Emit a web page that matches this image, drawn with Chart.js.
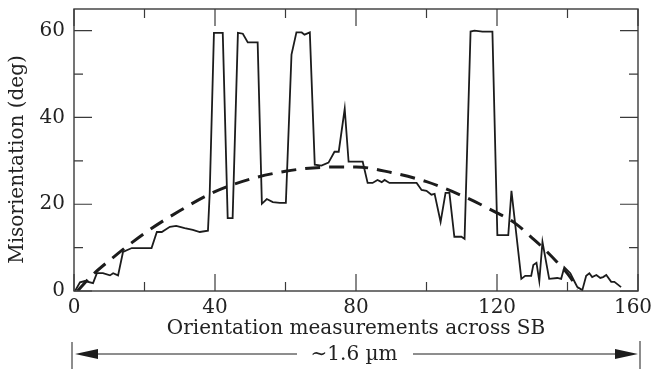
<!DOCTYPE html>
<html>
<head>
<meta charset="utf-8">
<script src="https://cdn.jsdelivr.net/npm/chart.js@4.4.1/dist/chart.umd.min.js"></script>
<style>
  html, body { margin: 0; padding: 0; background: #fff; }
  #wrap { width: 653px; height: 370px; }
</style>
</head>
<body>
<div id="wrap"><canvas id="chart" width="653" height="370"></canvas></div>
<script>
// measured misorientation (solid line)
const measX = [0.3, 1.7, 3.1, 5.4, 6.5, 8.2, 10.2, 11.1, 12.5, 13.9, 16.4, 22, 23.5, 24.9, 27.2, 29, 31.4, 33.7, 35.7, 38,
  38.5, 39.7, 42.2, 43.6, 45, 46.5, 47.9, 49.3, 52.1, 53.3, 54.7, 56.4, 58.4, 60.1, 61.7, 63.1, 64.6, 65.4, 66.9,
  68.3, 70.2, 72.2, 73.9, 75.1, 76.8, 77.9, 81.9, 83.3, 84.7, 86.1, 87.3, 88.1, 89.5, 97.2, 98.6, 100, 101.4, 102.3,
  104, 105.4, 106.5, 107.9, 109.9, 110.8, 112.5, 113.6, 115.9, 118.7, 120.1, 123.2, 124.1, 126.9, 128, 129.7, 130.3,
  131.2, 132, 132.9, 134.8, 137.1, 138.2, 139.1, 140.8, 141.9, 142.8, 144.2, 145.3, 146.2, 147, 148.2, 149.3, 150.1,
  151, 152.4, 153.3, 155.2];
const measY = [0, 2, 2.3, 1.8, 4.1, 4.1, 3.6, 4.1, 3.6, 9, 9.9, 9.9, 13.6, 13.6, 14.8, 15, 14.5, 14.1, 13.6, 13.9,
  22.6, 59.5, 59.5, 16.8, 16.8, 59.5, 59.3, 57.3, 57.3, 20.1, 21.2, 20.5, 20.3, 20.3, 54.5, 59.6, 59.6, 59.1, 59.6,
  29.1, 28.9, 29.6, 32.1, 32.1, 42, 29.8, 29.8, 24.9, 24.9, 25.6, 25.1, 25.6, 24.9, 24.9, 23.3, 23.1, 22.2, 22.4,
  15.9, 22.6, 22.6, 12.5, 12.5, 12, 59.8, 60, 59.8, 59.8, 12.9, 12.9, 23.1, 2.8, 3.5, 3.5, 6,
  6.5, 2.3, 11.3, 2.8, 3, 2.8, 5.5, 4.1, 2.3, 0.9, 0.2, 3.5, 4.1, 3.2, 3.7, 3, 3.2,
  3.7, 2.1, 2.1, 0.9];

// fitted trend (dashed line)
const fitX = [1, 5, 10, 20, 30, 40, 50, 60, 70, 80, 90, 100, 110, 120, 125, 130, 133, 137, 140, 143];
const fitY = [0, 3.5, 7, 13.3, 18.5, 22.9, 25.8, 27.6, 28.5, 28.6, 27.3, 25.2, 22, 18, 15.7, 12.2, 10, 6.7, 4, 0.5];

const xTicks = [0, 40, 80, 120, 160];
const xMinor = [20, 60, 100, 140];
const yTicks = [0, 20, 40, 60];
const yMinor = [10, 30, 50];

const FONT = 'DejaVu Serif';
const INK = '#1c1c1c';
const TEXT = '#222';

const framePlugin = {
  id: 'frame',
  afterDraw(chart) {
    const { ctx, chartArea: a, scales: { x, y } } = chart;
    ctx.save();
    ctx.strokeStyle = '#3a3a3a';
    ctx.lineWidth = 1.4;
    ctx.strokeRect(a.left, a.top, a.right - a.left, a.bottom - a.top);
    ctx.lineWidth = 1.2;
    ctx.beginPath();
    const tickX = (v, len) => {
      const px = x.getPixelForValue(v);
      ctx.moveTo(px, a.bottom); ctx.lineTo(px, a.bottom - len);
      ctx.moveTo(px, a.top); ctx.lineTo(px, a.top + len);
    };
    const tickY = (v, len) => {
      const py = y.getPixelForValue(v);
      ctx.moveTo(a.left, py); ctx.lineTo(a.left + len, py);
      ctx.moveTo(a.right, py); ctx.lineTo(a.right - len, py);
    };
    xTicks.forEach(v => tickX(v, 17));
    xMinor.forEach(v => tickX(v, 9));
    yTicks.forEach(v => tickY(v, 18));
    yMinor.forEach(v => tickY(v, 9));
    ctx.stroke();

    // span arrow below the axis
    const x0 = x.getPixelForValue(0), x1 = x.getPixelForValue(160);
    const ay = 354;
    ctx.strokeStyle = INK;
    ctx.fillStyle = INK;
    ctx.lineWidth = 1;
    ctx.beginPath();
    ctx.moveTo(x0 - 2, 342); ctx.lineTo(x0 - 2, 369);
    ctx.moveTo(x1 + 2, 341); ctx.lineTo(x1 + 2, 369);
    ctx.moveTo(x0 + 18, ay); ctx.lineTo(297, ay);
    ctx.moveTo(413, ay); ctx.lineTo(x1 - 18, ay);
    ctx.stroke();
    ctx.beginPath();
    ctx.moveTo(x0 + 1, ay); ctx.lineTo(x0 + 24, ay - 5); ctx.lineTo(x0 + 24, ay + 5); ctx.closePath();
    ctx.moveTo(x1, ay); ctx.lineTo(x1 - 23, ay - 5); ctx.lineTo(x1 - 23, ay + 5); ctx.closePath();
    ctx.fill();
    ctx.fillStyle = TEXT;
    ctx.font = '20px "' + FONT + '"';
    ctx.textAlign = 'center';
    ctx.textBaseline = 'middle';
    ctx.fillText('\u223C1.6 \u00B5m', 354, ay + 1);
    ctx.restore();
  }
};

new Chart(document.getElementById('chart'), {
  type: 'line',
  data: {
    datasets: [
      {
        data: measX.map((v, i) => ({ x: v, y: measY[i] })),
        borderColor: INK,
        borderWidth: 1.8,
        pointRadius: 0,
        tension: 0,
      },
      {
        data: fitX.map((v, i) => ({ x: v, y: fitY[i] })),
        borderColor: INK,
        borderWidth: 3,
        borderDash: [15, 9],
        pointRadius: 0,
        cubicInterpolationMode: 'monotone',
      },
    ],
  },
  options: {
    responsive: false,
    animation: false,
    layout: { padding: { top: 9, right: 15, left: 0, bottom: 0 } },
    plugins: { legend: { display: false }, tooltip: { enabled: false } },
    scales: {
      x: {
        type: 'linear',
        min: 0,
        max: 160,
        grid: { display: false, drawTicks: false },
        border: { display: false },
        afterBuildTicks: s => { s.ticks = xTicks.map(v => ({ value: v })); },
        afterFit: s => { s.height = 79; s.paddingLeft = 0; s.paddingRight = 0; },
        ticks: {
          color: TEXT,
          padding: 5,
          font: { family: FONT, size: 20 },
          maxRotation: 0,
          callback: v => (v === 160 ? v + '\u2002' : String(v)),
        },
        title: {
          display: true,
          text: 'Orientation measurements across SB',
          color: TEXT,
          font: { family: FONT, size: 20 },
          padding: { top: 0, bottom: 29 },
        },
      },
      y: {
        min: 0,
        max: 65,
        grid: { display: false, drawTicks: false },
        border: { display: false },
        afterBuildTicks: s => { s.ticks = yTicks.map(v => ({ value: v })); },
        afterFit: s => { s.width = 74; s.paddingTop = 0; s.paddingBottom = 0; },
        ticks: { color: TEXT, padding: 9, font: { family: FONT, size: 20 } },
        title: {
          display: true,
          text: 'Misorientation (deg)   ',
          color: TEXT,
          font: { family: FONT, size: 20 },
          padding: { top: 6, bottom: 0 },
        },
      },
    },
  },
  plugins: [framePlugin],
});
</script>
</body>
</html>
